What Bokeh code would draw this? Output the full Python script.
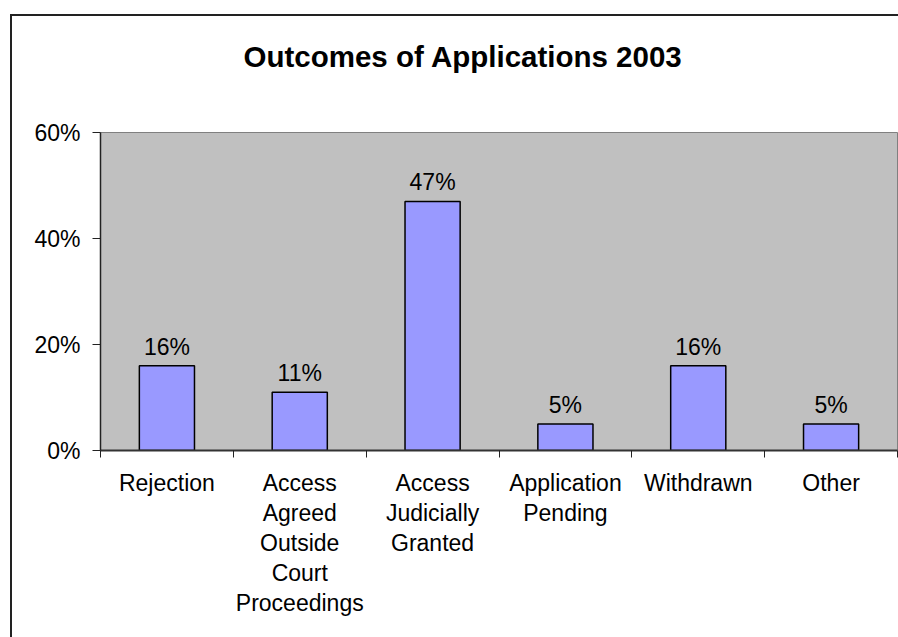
from bokeh.plotting import figure
from bokeh.models import (FixedTicker, NumeralTickFormatter, InlineStyleSheet,
                          ColumnDataSource, Range1d, Title)
from bokeh.core.properties import value
from bokeh.embed import file_html
from bokeh.resources import INLINE

title = "Outcomes of Applications 2003"
categories = ["Rejection", "Access\nAgreed\nOutside\nCourt\nProceedings",
              "Access\nJudicially\nGranted", "Application\nPending",
              "Withdrawn", "Other"]
values = [0.16, 0.11, 0.47, 0.05, 0.16, 0.05]
y_ticks = [0.0, 0.2, 0.4, 0.6]

FONT = "Liberation Sans"
W, H = 898, 637
FL, FT, FB = 100, 132, 450   # frame left / top / bottom in page pixels

xs = [i + 0.5 for i in range(len(categories))]
labels = [f"{round(v * 100)}%" for v in values]
src = ColumnDataSource(dict(x=xs, top=values, label=labels))

p = figure(width=W, height=H, output_backend="svg", toolbar_location=None,
           x_range=Range1d(0, len(categories)), y_range=Range1d(0, 0.6),
           min_border_left=FL, min_border_top=FT, min_border_right=1,
           min_border_bottom=H - FB, title=title)
p.background_fill_color = "#C0C0C0"
p.border_fill_color = "white"
p.outline_line_color = "#808080"
p.outline_line_width = 1
p.grid.visible = False

p.title.text_font = FONT
p.title.text_font_size = "29.5px"
p.title.text_font_style = "bold"
p.title.text_color = "black"
p.title.align = "left"
p.title.offset = 143
p.title.standoff = 0

# blank spacer panel between the title and the plot area
p.add_layout(Title(text="\u00a0", text_font_size="29.5px", standoff=25), "above")

p.vbar(x="x", top="top", width=0.415, source=src, fill_color="#9999FF",
       line_color="black", line_width=1.5)
p.text(x="x", y="top", text="label", source=src, text_align="center",
       text_baseline="alphabetic", y_offset=-19, text_font=value(FONT),
       text_font_size="23px", text_color="black")

# y axis
ya = p.yaxis[0]
ya.ticker = FixedTicker(ticks=y_ticks, minor_ticks=[])
ya.formatter = NumeralTickFormatter(format="0%")
ya.major_label_text_font = FONT
ya.major_label_text_font_size = "23px"
ya.major_label_text_color = "black"
ya.major_tick_in = 0
ya.major_tick_out = 8
ya.major_tick_line_color = "#222222"
ya.major_label_standoff = 12
ya.axis_line_color = "#222222"
ya.axis_line_width = 1.5

# x axis
xa = p.xaxis[0]
xa.ticker = FixedTicker(ticks=xs, minor_ticks=list(range(len(categories) + 1)))
xa.major_label_overrides = {x: c for x, c in zip(xs, categories)}
xa.major_label_text_font = FONT
xa.major_label_text_font_size = "23px"
xa.major_label_text_color = "black"
xa.major_label_text_line_height = 1.16
xa.major_tick_line_color = None
xa.major_tick_in = 0
xa.major_tick_out = 0
xa.minor_tick_in = 0
xa.minor_tick_out = 7
xa.minor_tick_line_color = "#222222"
xa.major_label_standoff = 12
xa.axis_line_color = "#333333"
xa.axis_line_width = 2

# outer chart border (left and top edges visible; the rest lies off the page)
p.stylesheets = [InlineStyleSheet(css="""
:host::after {
  content: "";
  position: absolute;
  left: 10px;
  top: 14px;
  width: 886px;
  height: 621px;
  border-left: 2px solid #222222;
  border-top: 2px solid #222222;
  pointer-events: none;
  z-index: 10;
}
""")]

open("out.html", "w").write(file_html(p, INLINE))
